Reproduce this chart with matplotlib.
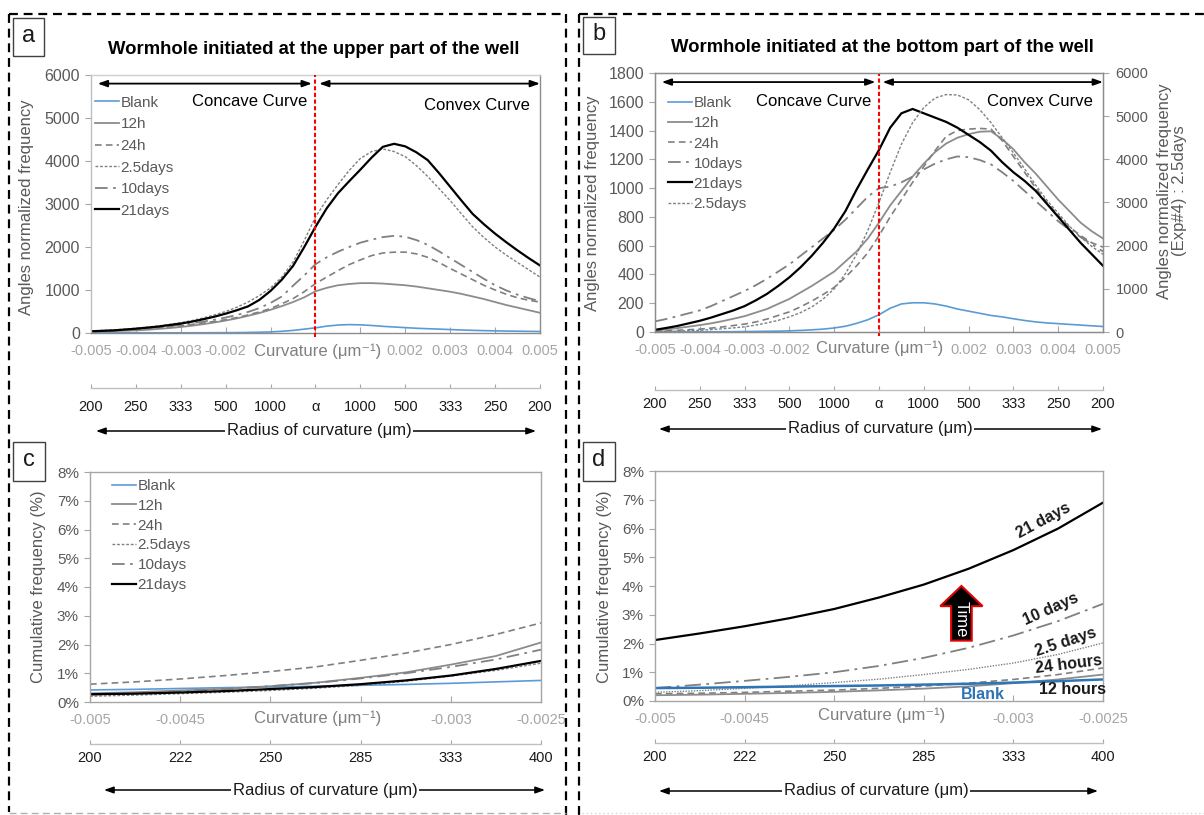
import matplotlib
matplotlib.use("Agg")
import matplotlib.pyplot as plt
from matplotlib.lines import Line2D
from matplotlib.patches import Rectangle, FancyArrowPatch, FancyArrow

W, H = 1204, 815
plt.rcParams['font.family'] = ['Liberation Sans', 'DejaVu Sans']

# ---------------- data ----------------
# curvature sample positions (1/um) for the frequency distributions
curv_full = [-0.005, -0.00475, -0.0045, -0.00425, -0.004, -0.00375, -0.0035, -0.00325,
             -0.003, -0.00275, -0.0025, -0.00225, -0.002, -0.00175, -0.0015, -0.00125,
             -0.001, -0.00075, -0.0005, -0.00025, 0.0, 0.00025, 0.0005, 0.00075, 0.001,
             0.00125, 0.0015, 0.00175, 0.002, 0.00225, 0.0025, 0.00275, 0.003, 0.00325,
             0.0035, 0.00375, 0.004, 0.00425, 0.0045, 0.00475, 0.005]

# (a) wormhole initiated at the upper part of the well
a_blank = [5, 5, 5, 5, 5, 5, 5, 5, 5, 5, 6, 7, 8, 10, 13, 18, 25, 40, 60, 90,
           120, 160, 185, 195, 190, 175, 155, 140, 125, 110, 100,
           90, 80, 70, 62, 55, 50, 45, 42, 38, 35]
a_12h = [30, 38, 46, 53, 60, 75, 95, 115, 140, 170, 205, 245, 290, 340, 400, 465, 540, 625, 720, 830,
         970, 1050, 1110, 1140, 1160, 1160, 1150, 1130, 1110, 1080, 1040,
         1000, 960, 910, 850, 790, 720, 650, 590, 530, 470]
a_24h = [40, 50, 60, 70, 85, 100, 120, 145, 170, 200, 235, 270, 310, 360, 420, 490, 570, 680, 800, 960,
         1150, 1300, 1450, 1590, 1700, 1800, 1860, 1880, 1880, 1840, 1760,
         1640, 1500, 1370, 1240, 1110, 1000, 900, 820, 760, 720]
a_25d = [50, 60, 70, 90, 110, 135, 165, 200, 240, 290, 350, 420, 500, 600, 720, 870, 1050, 1300, 1650, 2150,
         2700, 3100, 3450, 3780, 4060, 4220, 4280, 4220, 4100, 3890, 3640,
         3360, 3080, 2770, 2470, 2220, 2000, 1810, 1640, 1470, 1300]
a_10d = [40, 50, 60, 75, 90, 110, 135, 160, 190, 225, 265, 310, 360, 420, 490, 580, 700, 850, 1100, 1340,
         1600, 1760, 1890, 2000, 2100, 2170, 2230, 2260, 2240, 2160, 2050,
         1900, 1740, 1580, 1420, 1260, 1110, 990, 890, 810, 740]
a_21d = [40, 50, 60, 80, 100, 125, 150, 185, 220, 265, 320, 380, 450, 530, 620, 770, 980, 1240, 1560, 2000,
         2470, 2900, 3250, 3530, 3800, 4080, 4330, 4400, 4340, 4200, 4020,
         3720, 3400, 3080, 2770, 2530, 2310, 2110, 1920, 1740, 1570]

# (b) wormhole initiated at the bottom part of the well
b_blank = [0, 0, 0, 0, 1, 1, 2, 2, 3, 4, 5, 6, 8, 11, 15, 20, 28, 40, 60, 85,
           120, 165, 195, 203, 203, 195, 180, 160, 145, 130, 115,
           105, 92, 80, 70, 63, 58, 53, 48, 43, 38]
b_12h = [10, 18, 27, 37, 48, 60, 75, 92, 110, 135, 160, 195, 230, 275, 320, 370, 420, 490, 560, 650,
         760, 880, 980, 1080, 1170, 1250, 1310, 1350, 1375, 1392, 1395,
         1340, 1270, 1180, 1100, 1010, 920, 840, 760, 700, 650]
b_24h = [5, 8, 12, 16, 20, 27, 35, 45, 55, 70, 90, 115, 140, 175, 215, 260, 310, 380, 460, 550,
         670, 800, 920, 1040, 1150, 1260, 1360, 1400, 1410, 1415, 1410,
         1330, 1220, 1110, 1000, 900, 810, 730, 670, 620, 590]
b_10d = [74, 90, 110, 130, 150, 180, 215, 250, 285, 325, 370, 420, 470, 530, 590, 650, 710, 780, 860, 940,
         1000, 1010, 1040, 1080, 1130, 1170, 1200, 1220, 1215, 1195, 1165,
         1110, 1050, 980, 910, 840, 770, 710, 660, 610, 560]
b_21d = [15, 28, 42, 60, 78, 100, 125, 150, 180, 220, 265, 320, 380, 450, 530, 620, 720, 840, 990, 1130,
         1265, 1420, 1520, 1550, 1520, 1490, 1460, 1420, 1370, 1320, 1260,
         1180, 1110, 1050, 980, 890, 800, 710, 620, 540, 460]
# 2.5 days of Exp#4, read on the right-hand axis
b_25d = [10, 15, 20, 30, 40, 55, 75, 95, 120, 160, 210, 270, 350, 450, 580, 760, 1000, 1350, 1800, 2350,
         3000, 3700, 4350, 4850, 5200, 5420, 5500, 5490, 5380, 5150, 4850,
         4500, 4150, 3780, 3400, 3050, 2750, 2450, 2200, 1980, 1800]

# cumulative frequency (%) on the concave side
curv_neg = [-0.005, -0.00475, -0.0045, -0.00425, -0.004, -0.00375, -0.0035, -0.00325, -0.003, -0.00275, -0.0025]
c_blank = [0.42, 0.44, 0.47, 0.50, 0.52, 0.55, 0.58, 0.61, 0.65, 0.70, 0.75]
c_12h = [0.30, 0.34, 0.40, 0.46, 0.55, 0.67, 0.84, 1.03, 1.30, 1.60, 2.07]
c_24h = [0.62, 0.70, 0.80, 0.92, 1.06, 1.22, 1.45, 1.70, 2.00, 2.35, 2.75]
c_25d = [0.20, 0.24, 0.29, 0.34, 0.40, 0.48, 0.58, 0.72, 0.90, 1.10, 1.35]
c_10d = [0.25, 0.30, 0.37, 0.45, 0.55, 0.66, 0.82, 1.00, 1.22, 1.48, 1.82]
c_21d = [0.27, 0.29, 0.33, 0.38, 0.45, 0.52, 0.62, 0.75, 0.92, 1.15, 1.43]

d_blank = [0.45, 0.46, 0.48, 0.50, 0.52, 0.54, 0.57, 0.60, 0.64, 0.69, 0.75]
d_12h = [0.20, 0.22, 0.25, 0.28, 0.32, 0.37, 0.43, 0.51, 0.62, 0.75, 0.92]
d_24h = [0.25, 0.27, 0.30, 0.34, 0.38, 0.44, 0.52, 0.62, 0.75, 0.92, 1.15]
d_25d = [0.30, 0.36, 0.44, 0.53, 0.64, 0.76, 0.92, 1.10, 1.32, 1.62, 2.02]
d_10d = [0.45, 0.57, 0.70, 0.84, 1.00, 1.22, 1.50, 1.85, 2.28, 2.78, 3.38]
d_21d = [2.12, 2.35, 2.60, 2.88, 3.20, 3.60, 4.05, 4.60, 5.25, 6.00, 6.90]

# tick labels
ticks_full = [-0.005, -0.004, -0.003, -0.002, -0.001, 0.0, 0.001, 0.002, 0.003, 0.004, 0.005]
curv_labels_full = ['-0.005', '-0.004', '-0.003', '-0.002', '', '', '', '0.002', '0.003', '0.004', '0.005']
radius_labels_full = ['200', '250', '333', '500', '1000', 'α', '1000', '500', '333', '250', '200']
ticks_neg = [-0.005, -0.0045, -0.004, -0.0035, -0.003, -0.0025]
curv_labels_neg = ['-0.005', '-0.0045', '', '', '-0.003', '-0.0025']
radius_labels_neg = ['200', '222', '250', '285', '333', '400']

# ---------------- styles ----------------
STY = {
    'Blank': dict(color='#5b9bd5', lw=1.2, ls='-'),
    '12h': dict(color='#8c8c8c', lw=1.3, ls='-'),
    '24h': dict(color='#808080', lw=1.2, ls=(0, (4, 2.5))),
    '2.5days': dict(color='#808080', lw=1.0, ls=(0, (2, 1.3))),
    '10days': dict(color='#808080', lw=1.3, ls=(0, (7, 3, 1.5, 3))),
    '21days': dict(color='black', lw=1.6, ls='-'),
}
GRAY_TXT = '#595959'
LIGHT_TXT = '#a6a6a6'

fig = plt.figure(figsize=(W / 100, H / 100), dpi=100)


def rect(x0, y0, x1, y1):
    return [x0 / W, 1 - y1 / H, (x1 - x0) / W, (y1 - y0) / H]


def ftext(x, y, s, **kw):
    kw.setdefault('ha', 'center')
    kw.setdefault('va', 'center')
    return fig.text(x / W, 1 - y / H, s, **kw)


def fline(xs, ys, **kw):
    fig.add_artist(Line2D([x / W for x in xs], [1 - y / H for y in ys],
                          transform=fig.transFigure, **kw))


def style_axes(ax, spine_colors):
    for side, c in spine_colors.items():
        ax.spines[side].set_color(c)
        ax.spines[side].set_linewidth(1.0)
    ax.tick_params(axis='x', direction='in', length=4, color='#a6a6a6',
                   labelcolor=LIGHT_TXT, labelsize=10.5, pad=8)
    ax.tick_params(axis='y', direction='out', length=4, color='#a6a6a6',
                   labelcolor=GRAY_TXT, labelsize=11.5, pad=4)


def radius_axis(ax, loc, ticks, labels, pad):
    sec = ax.secondary_xaxis(loc)
    sec.set_xticks(ticks)
    sec.set_xticklabels(labels)
    sec.tick_params(direction='in', length=3, color='#a6a6a6', labelcolor='#1a1a1a',
                    labelsize=10.5, pad=pad)
    sec.spines['bottom'].set_color('#bfbfbf')
    sec.spines['bottom'].set_linewidth(1.0)
    return sec


def radius_banner(x0, x1, y, xc):
    fig.add_artist(FancyArrowPatch((x0 / W, 1 - y / H), (x1 / W, 1 - y / H),
                                   transform=fig.transFigure, arrowstyle='<|-|>,head_length=0.7,head_width=0.25',
                                   mutation_scale=8, lw=1.1, color='black', shrinkA=0, shrinkB=0))
    ftext(xc, y, 'Radius of curvature (μm)', fontsize=12, color='#1a1a1a',
          bbox=dict(fc='white', ec='none', pad=1.5), zorder=5)


def top_arrows(ax, yv):
    kw = dict(arrowstyle='<|-|>,head_length=0.7,head_width=0.25', color='black', lw=1.3,
              shrinkA=0, shrinkB=0, mutation_scale=8)
    ax.annotate('', xy=(-0.00485, yv), xytext=(-0.00008, yv), arrowprops=kw)
    ax.annotate('', xy=(0.00008, yv), xytext=(0.005, yv), arrowprops=kw)


def legend_handles(names):
    return [Line2D([], [], **STY[n]) for n in names]


def panel_label(x0, y0, x1, y1, s):
    fig.add_artist(Rectangle((x0 / W, 1 - y1 / H), (x1 - x0) / W, (y1 - y0) / H,
                             transform=fig.transFigure, fill=False, ec='#404040', lw=1.0))
    ftext((x0 + x1) / 2, (y0 + y1) / 2 - 1, s, fontsize=17, color='#1a1a1a')


# ---------------- panel a ----------------
axA = fig.add_axes(rect(91, 75, 540, 333))
series_a = [('Blank', a_blank), ('12h', a_12h), ('24h', a_24h),
            ('2.5days', a_25d), ('10days', a_10d), ('21days', a_21d)]
for name, vals in series_a:
    axA.plot(curv_full, vals, **STY[name])
axA.set_xlim(-0.005, 0.005)
axA.set_ylim(0, 6000)
axA.set_yticks(range(0, 6001, 1000))
axA.set_xticks(ticks_full)
axA.set_xticklabels(curv_labels_full)
style_axes(axA, {'left': '#bfbfbf', 'top': '#cfcfcf', 'right': '#8c8c8c', 'bottom': '#8c8c8c'})
axA.axvline(0, ymin=-0.015, ymax=1.0, color='#ff0000', lw=1.5, ls=(0, (2, 1.2)), clip_on=False, zorder=4)
top_arrows(axA, 5800)
axA.legend(legend_handles([n for n, _ in series_a]), [n for n, _ in series_a],
           loc='upper left', bbox_to_anchor=(0.008, 0.92), frameon=False, fontsize=11,
           handlelength=1.6, handletextpad=0.1, labelspacing=0.5, borderpad=0, borderaxespad=0,
           labelcolor=GRAY_TXT)
radius_axis(axA, -0.213, ticks_full, radius_labels_full, 9)

# ---------------- panel b ----------------
axB = fig.add_axes(rect(655, 73, 1103, 332))
series_b = [('Blank', b_blank), ('12h', b_12h), ('24h', b_24h), ('10days', b_10d), ('21days', b_21d)]
for name, vals in series_b:
    axB.plot(curv_full, vals, **STY[name])
axB.set_xlim(-0.005, 0.005)
axB.set_ylim(0, 1800)
axB.set_yticks(range(0, 1801, 200))
axB.set_xticks(ticks_full)
axB.set_xticklabels(curv_labels_full)
style_axes(axB, {'left': '#8c8c8c', 'top': '#8c8c8c', 'right': '#8c8c8c', 'bottom': '#8c8c8c'})
axB2 = axB.twinx()
axB2.plot(curv_full, b_25d, **STY['2.5days'])
axB2.set_ylim(0, 6000)
axB2.set_yticks(range(0, 6001, 1000))
axB2.tick_params(axis='y', direction='out', length=4, color='#a6a6a6',
                 labelcolor=GRAY_TXT, labelsize=10.5, pad=5)
for sp in axB2.spines.values():
    sp.set_color('#8c8c8c')
axB.axvline(0, ymin=-0.015, ymax=1.0, color='#ff0000', lw=1.5, ls=(0, (2, 1.2)), clip_on=False, zorder=4)
top_arrows(axB, 1737)
names_b = ['Blank', '12h', '24h', '10days', '21days', '2.5days']
axB.legend(legend_handles(names_b), names_b, loc='upper left', bbox_to_anchor=(0.028, 0.91),
           frameon=False, fontsize=11, handlelength=1.6, handletextpad=0.1, labelspacing=0.4,
           borderpad=0, borderaxespad=0, labelcolor=GRAY_TXT)
radius_axis(axB, -0.224, ticks_full, radius_labels_full, 5)

# ---------------- panel c ----------------
axC = fig.add_axes(rect(90, 472, 541, 702))
series_c = [('Blank', c_blank), ('12h', c_12h), ('24h', c_24h),
            ('2.5days', c_25d), ('10days', c_10d), ('21days', c_21d)]
for name, vals in series_c:
    axC.plot(curv_neg, vals, **STY[name])
axC.set_xlim(-0.005, -0.0025)
axC.set_ylim(0, 8)
axC.set_yticks(range(0, 9))
axC.set_yticklabels([f'{v}%' for v in range(0, 9)])
axC.set_xticks(ticks_neg)
axC.set_xticklabels(curv_labels_neg)
style_axes(axC, {s: '#a6a6a6' for s in ['left', 'top', 'right', 'bottom']})
axC.tick_params(axis='y', labelsize=11)
axC.legend(legend_handles([n for n, _ in series_c]), [n for n, _ in series_c],
           loc='upper left', bbox_to_anchor=(0.048, 0.97), frameon=False, fontsize=11,
           handlelength=1.6, handletextpad=0.1, labelspacing=0.38, borderpad=0, borderaxespad=0,
           labelcolor=GRAY_TXT)
radius_axis(axC, -0.183, ticks_neg, radius_labels_neg, 5)

# ---------------- panel d ----------------
axD = fig.add_axes(rect(655, 471, 1103, 701))
series_d = [('21days', d_21d), ('10days', d_10d), ('2.5days', d_25d),
            ('24h', d_24h), ('12h', d_12h)]
for name, vals in series_d:
    st = dict(STY[name])
    if name == '2.5days':
        st['ls'] = (0, (1, 1))
    if name == '10days':
        st['ls'] = (0, (9, 3, 1.5, 3))
    axD.plot(curv_neg, vals, **st)
axD.plot(curv_neg, d_blank, color='#2e75b6', lw=1.8)
axD.set_xlim(-0.005, -0.0025)
axD.set_ylim(0, 8)
axD.set_yticks(range(0, 9))
axD.set_yticklabels([f'{v}%' for v in range(0, 9)])
axD.set_xticks(ticks_neg)
axD.set_xticklabels(curv_labels_neg)
style_axes(axD, {s: '#a6a6a6' for s in ['left', 'top', 'right', 'bottom']})
axD.tick_params(axis='y', labelsize=11)
radius_axis(axD, -0.183, ticks_neg, radius_labels_neg, 5)

lbl = dict(fontsize=11.5, fontweight='bold', ha='center', va='center', color='#1a1a1a')
axD.text(-0.00283, 6.28, '21 days', rotation=28, **lbl)
axD.text(-0.00279, 3.21, '10 days', rotation=24, **lbl)
axD.text(-0.00271, 2.05, '2.5 days', rotation=18, **lbl)
axD.text(-0.00269, 1.26, '24 hours', rotation=7, **lbl)
axD.text(-0.00267, 0.39, '12 hours', **lbl)
axD.text(-0.00317, 0.23, 'Blank', fontsize=11.5, fontweight='bold', ha='center', va='center',
         color='#2e75b6')
axD.add_patch(FancyArrow(-0.00329, 2.1, 0, 1.9, width=0.000115, head_width=0.000236,
                         head_length=0.7, length_includes_head=True, fc='black',
                         ec='#e00000', lw=1.5, zorder=5))
axD.text(-0.00329, 2.85, 'Time', rotation=270, color='white', fontsize=12,
         ha='center', va='center', zorder=6)

# ---------------- figure texts ----------------
ftext(314, 49, 'Wormhole initiated at the upper part of the well', fontsize=13.3, fontweight='bold')
ftext(882, 47, 'Wormhole initiated at the bottom part of the well', fontsize=13.3, fontweight='bold')

ftext(250, 102, 'Concave Curve', fontsize=12)
ftext(477, 105, 'Convex Curve', fontsize=12)
ftext(814, 101, 'Concave Curve', fontsize=12)
ftext(1040, 101, 'Convex Curve', fontsize=12)

ftext(27, 207, 'Angles normalized frequency', rotation=90, fontsize=12, color=GRAY_TXT)
ftext(593, 203, 'Angles normalized frequency', rotation=90, fontsize=12, color=GRAY_TXT)
ftext(1172, 191, 'Angles normalized frequency\n(Exp#4) : 2.5days', rotation=90, fontsize=12,
      color=GRAY_TXT, multialignment='center', linespacing=1.05)
ftext(39, 587, 'Cumulative frequency (%)', rotation=90, fontsize=12, color=GRAY_TXT)
ftext(605, 587, 'Cumulative frequency (%)', rotation=90, fontsize=12, color=GRAY_TXT)

curv_lbl = dict(fontsize=12, color='#808080')
ftext(318, 351, 'Curvature (μm⁻¹)', **curv_lbl)
ftext(880, 348, 'Curvature (μm⁻¹)', **curv_lbl)
ftext(318, 718, 'Curvature (μm⁻¹)', **curv_lbl)
ftext(882, 715, 'Curvature (μm⁻¹)', **curv_lbl)

radius_banner(96, 536, 431, 319)
radius_banner(659, 1102, 429, 880)
radius_banner(104, 545, 790, 325)
radius_banner(659, 1098, 791, 876)

panel_label(13, 18, 44, 56, 'a')
panel_label(583, 17, 615, 54, 'b')
panel_label(13, 442, 45, 481, 'c')
panel_label(583, 442, 615, 481, 'd')

# dashed frames around the two columns
frame = dict(color='black', lw=1.6, ls=(0, (4, 2.6)))
fline([9, 566], [14, 14], **frame)
fline([9, 9], [14, 812], **frame)
fline([566, 566], [14, 815], **frame)
fline([579, 1204], [14, 14], **frame)
fline([579, 579], [14, 815], **frame)
fline([9, 566], [813, 813], color='#b0b0b0', lw=1.0, ls=(0, (5, 3)))
fline([582, 1204], [813, 813], color='#d5d5d5', lw=1.0, ls=(0, (1, 2)))

fig.savefig('out.png', dpi=100)
